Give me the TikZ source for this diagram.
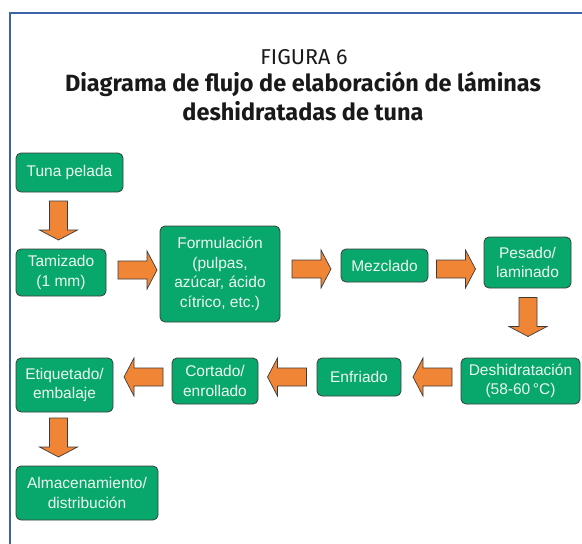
\documentclass[tikz,border=0pt]{standalone}
\usepackage{fontspec}
\setmainfont{Liberation Sans}
\newfontfamily\titlefont{Fira Sans}
\definecolor{framecol}{HTML}{3A66A8}
\definecolor{boxgreen}{HTML}{08A86C}
\definecolor{boxedge}{HTML}{3C3C3C}
\definecolor{arrorange}{HTML}{F08536}
\definecolor{boxtext}{HTML}{ECF7F0}
\tikzset{
  stepbox/.style={draw=boxedge, line width=0.8pt, fill=boxgreen, rounded corners=5pt,
    text=boxtext, align=center, inner sep=0pt,
    font=\fontsize{15.5}{19.5}\selectfont},
  blockarrow/.style={draw=boxedge, line width=0.7pt, fill=arrorange, line join=miter},
  barrow/.pic={\path[blockarrow] (-19.5,-9) -- (9.5,-9) -- (9.5,-19) -- (19.5,0) -- (9.5,19) -- (9.5,9) -- (-19.5,9) -- cycle;},
  titletext/.style={anchor=base, inner sep=0pt, text=black!90}
}
\begin{document}
\begin{tikzpicture}[x=1pt,y=-1pt]
\useasboundingbox (0,0) rectangle (582,544);
% frame
\draw[framecol, line width=2pt] (10,544) -- (10,13) -- (582,13);
% title
\node[titletext, font=\titlefont\fontsize{21.5}{25}\selectfont] (fig) at (304,64) {FIGURA 6};
\node[titletext, font=\titlefont\bfseries\fontsize{23.5}{28}\selectfont] (t1) at (303,91) {Diagrama de flujo de elaboración de láminas};
\node[titletext, font=\titlefont\bfseries\fontsize{23.5}{28}\selectfont] (t2) at (303,120) {deshidratadas de tuna};
% boxes
\node[stepbox, minimum width=107pt, minimum height=39pt] (tuna) at (69.5,172.5) {Tuna pelada};
\node[stepbox, minimum width=90pt, minimum height=47pt] (tam) at (61,272.5) {Tamizado\\(1 mm)};
\node[stepbox, minimum width=120pt, minimum height=96pt] (form) at (220,274) {Formulación\\(pulpas,\\azúcar, ácido\\cítrico, etc.)};
\node[stepbox, minimum width=87pt, minimum height=33pt] (mez) at (384.5,265.5) {Mezclado};
\node[stepbox, minimum width=87pt, minimum height=51pt] (pes) at (527.5,262.5) {Pesado/\\laminado};
\node[stepbox, minimum width=119pt, minimum height=46pt] (desh) at (520.5,381) {Deshidratación\\(58-60\,°C)};
\node[stepbox, minimum width=84pt, minimum height=38pt] (enf) at (359,377) {Enfriado};
\node[stepbox, minimum width=86pt, minimum height=46pt] (cort) at (215,381) {Cortado/\\enrollado};
\node[stepbox, minimum width=97pt, minimum height=54pt] (etiq) at (64.5,385) {Etiquetado/\\embalaje};
\node[stepbox, minimum width=142pt, minimum height=54pt] (alm) at (87,493) {Almacenamiento/\\distribución};
% block arrows (tuna->tam, tam->form, form->mez, mez->pes, pes->desh, desh->enf, enf->cort, cort->etiq, etiq->alm)
\pic[rotate=-90] at (58.5,220.5) {barrow};
\pic at (137.5,270) {barrow};
\pic at (311.5,269) {barrow};
\pic at (456,269) {barrow};
\pic[rotate=-90] at (528,317) {barrow};
\pic[rotate=180] at (432.5,377) {barrow};
\pic[rotate=180] at (287,377) {barrow};
\pic[rotate=180] at (143.5,377) {barrow};
\pic[rotate=-90] at (58.5,437.5) {barrow};
\end{tikzpicture}
\end{document}
